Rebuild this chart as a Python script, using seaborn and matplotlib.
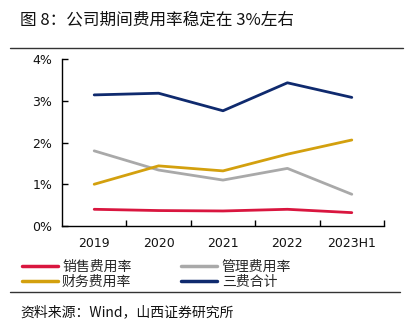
import matplotlib
matplotlib.use("Agg")
import matplotlib.pyplot as plt
import seaborn as sns
import pandas as pd
from matplotlib.lines import Line2D
from matplotlib.ticker import FixedLocator, PercentFormatter

years = ["2019", "2020", "2021", "2022", "2023H1"]
sales_rate = [0.40, 0.37, 0.36, 0.40, 0.32]
admin_rate = [1.80, 1.34, 1.10, 1.38, 0.76]
finance_rate = [1.00, 1.44, 1.32, 1.72, 2.06]
total_rate = [3.14, 3.18, 2.76, 3.43, 3.08]

series_names = ["销售费用率", "管理费用率", "财务费用率", "三费合计"]
colors = ["#d9163f", "#a9a9a9", "#d3a00e", "#0f2a6e"]

df = pd.DataFrame({
    "year": years * 4,
    "value": sales_rate + admin_rate + finance_rate + total_rate,
    "series": sum([[n] * len(years) for n in series_names], []),
})

sns.set_theme(style="white")
plt.rcParams["font.family"] = ["Noto Sans CJK SC", "DejaVu Sans"]

fig = plt.figure(figsize=(4.10, 3.22), dpi=100)
ax = fig.add_axes([62 / 410, 1 - 226 / 322, (384 - 62) / 410, (226 - 59) / 322])

sns.lineplot(data=df, x="year", y="value", hue="series", hue_order=series_names,
             palette=dict(zip(series_names, colors)), linewidth=2.0, ax=ax,
             legend=False, sort=False)

ax.set_xlim(-0.5, 4.5)
ax.set_ylim(0, 4)
ax.set_yticks([0, 1, 2, 3, 4])
ax.yaxis.set_major_formatter(PercentFormatter(decimals=0))
ax.set_xticks(range(len(years)))
ax.set_xticklabels(years)
ax.xaxis.set_minor_locator(FixedLocator([0.5, 1.5, 2.5, 3.5, 4.5]))
ax.tick_params(axis="x", which="major", length=0, pad=8, labelsize=9, labelcolor="#111111")
ax.tick_params(axis="x", which="minor", direction="in", length=4, width=1, color="black", bottom=True)
ax.tick_params(axis="y", which="major", direction="in", length=4, width=1, color="black",
               left=True, pad=7, labelsize=9, labelcolor="#111111")
for lab in ax.get_xticklabels() + ax.get_yticklabels():
    lab.set_family(["DejaVu Sans"])
ax.set_xlabel("")
ax.set_ylabel("")
for s in ["top", "right"]:
    ax.spines[s].set_visible(False)
for s in ["left", "bottom"]:
    ax.spines[s].set_color("black")
    ax.spines[s].set_linewidth(1.0)
ax.grid(False)

# Legend
order = [0, 2, 1, 3]
handles = [Line2D([0], [0], color=colors[i], lw=2.5) for i in order]
labels = [series_names[i] for i in order]
fig.legend(handles, labels, ncol=2, loc="upper left",
           bbox_to_anchor=(12 / 410, 1 - 250 / 322), frameon=False,
           fontsize=10, handlelength=2.6, handletextpad=0.3,
           columnspacing=3.6, labelspacing=0.1, borderpad=0.2)

# Title and rules
fig.text(20 / 410, 1 - 20 / 322, "图 8：公司期间费用率稳定在 3%左右", fontsize=12,
         va="center", ha="left", color="#111111")
fig.add_artist(Line2D([10 / 410, 403 / 410], [1 - 48 / 322, 1 - 48 / 322],
                      color="#333333", lw=1.0, transform=fig.transFigure))
fig.add_artist(Line2D([10 / 410, 400 / 410], [1 - 292 / 322, 1 - 292 / 322],
                      color="#333333", lw=1.0, transform=fig.transFigure))
fig.text(20 / 410, 1 - 312 / 322, "资料来源：Wind，山西证券研究所", fontsize=10,
         va="center", ha="left", color="#111111")

fig.savefig("out.png", dpi=100)
